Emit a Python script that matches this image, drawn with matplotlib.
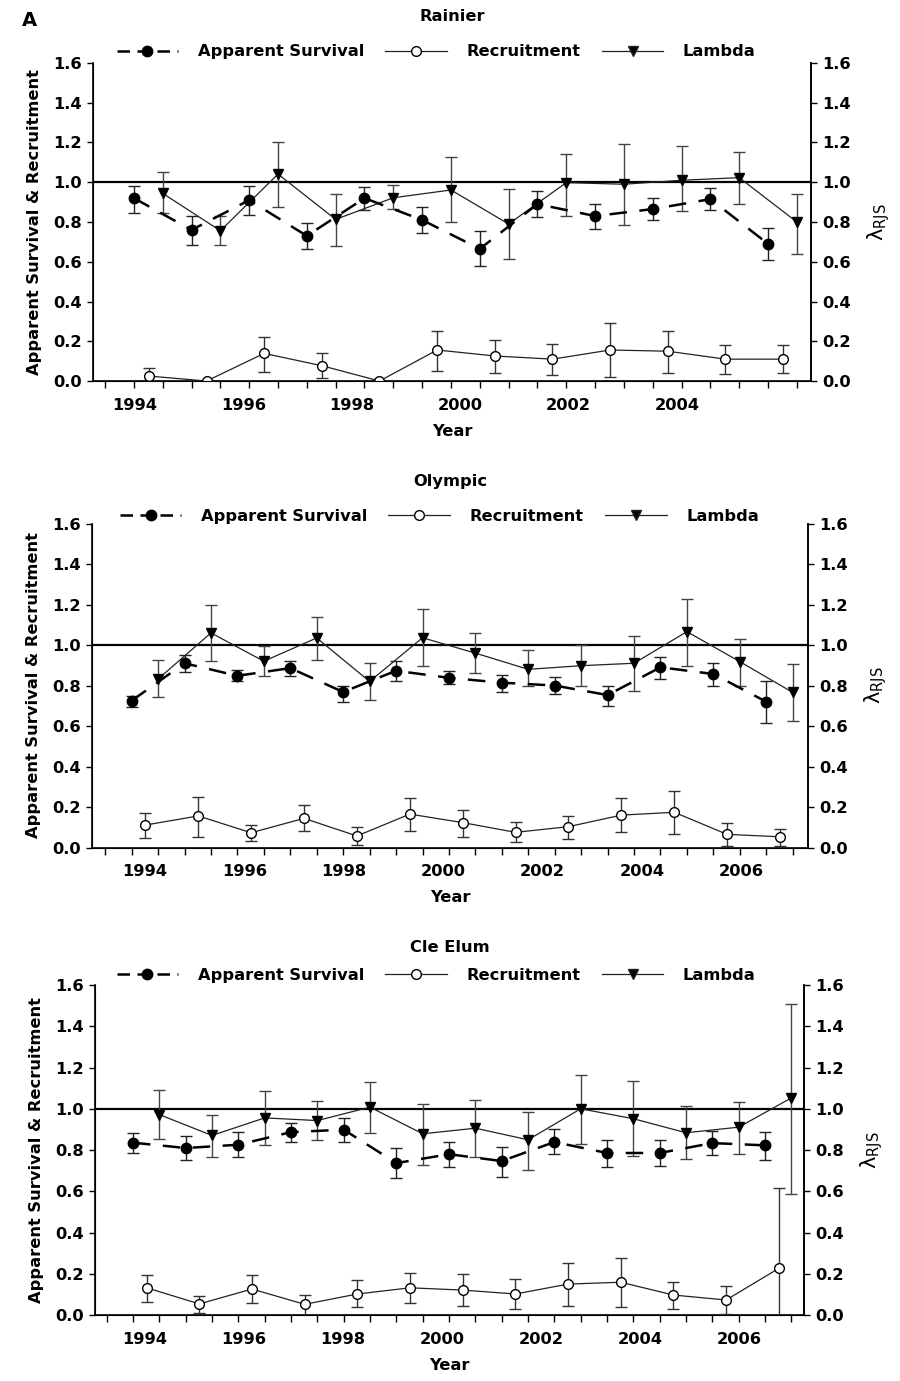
import matplotlib
matplotlib.use("Agg")
import matplotlib.pyplot as plt
from matplotlib.lines import Line2D
import numpy as np

plt.rcParams['font.family'] = ['DejaVu Sans']
plt.rcParams['font.weight'] = 'bold'
plt.rcParams['axes.labelweight'] = 'bold'

# ---- data ----
years_rainier = list(range(1994, 2006))
years_other = list(range(1994, 2007))

# Rainier
rai_surv = [0.92, 0.76, 0.91, 0.73, 0.92, 0.81, 0.665, 0.89, 0.83, 0.865, 0.915, 0.69]
rai_surv_lo = [0.847, 0.686, 0.835, 0.664, 0.86, 0.746, 0.58, 0.825, 0.765, 0.81, 0.86, 0.61]
rai_surv_hi = [0.983, 0.83, 0.983, 0.793, 0.978, 0.874, 0.755, 0.955, 0.89, 0.92, 0.97, 0.77]
rai_recr = [0.025, 0.0, 0.139, 0.077, 0.0, 0.156, 0.126, 0.11, 0.156, 0.15, 0.11, 0.11]
rai_recr_lo = [0.0, 0.0, 0.047, 0.013, 0.0, 0.05, 0.04, 0.03, 0.02, 0.04, 0.035, 0.04]
rai_recr_hi = [0.064, 0.0, 0.223, 0.139, 0.0, 0.25, 0.205, 0.185, 0.29, 0.25, 0.18, 0.18]
rai_lam = [0.944, 0.756, 1.041, 0.813, 0.922, 0.961, 0.79, 0.998, 0.99, 1.01, 1.023, 0.80]
rai_lam_lo = [0.847, 0.684, 0.877, 0.681, 0.864, 0.80, 0.613, 0.83, 0.785, 0.855, 0.89, 0.64]
rai_lam_hi = [1.05, 0.83, 1.204, 0.939, 0.986, 1.125, 0.966, 1.14, 1.19, 1.18, 1.15, 0.94]

# Olympic
oly_surv = [0.725, 0.91, 0.848, 0.886, 0.768, 0.873, 0.838, 0.814, 0.80, 0.753, 0.89, 0.857, 0.72]
oly_surv_lo = [0.695, 0.866, 0.82, 0.845, 0.72, 0.82, 0.807, 0.77, 0.76, 0.70, 0.83, 0.80, 0.616]
oly_surv_hi = [0.748, 0.95, 0.877, 0.92, 0.80, 0.92, 0.87, 0.852, 0.84, 0.80, 0.94, 0.91, 0.82]
oly_recr = [0.111, 0.156, 0.073, 0.144, 0.057, 0.165, 0.123, 0.075, 0.103, 0.16, 0.174, 0.065, 0.053]
oly_recr_lo = [0.047, 0.053, 0.03, 0.083, 0.012, 0.083, 0.053, 0.026, 0.042, 0.078, 0.067, 0.007, 0.007]
oly_recr_hi = [0.172, 0.25, 0.111, 0.21, 0.10, 0.246, 0.185, 0.124, 0.157, 0.246, 0.279, 0.119, 0.091]
oly_lam = [0.832, 1.06, 0.92, 1.035, 0.82, 1.036, 0.96, 0.88, 0.898, 0.91, 1.066, 0.918, 0.766]
oly_lam_lo = [0.745, 0.92, 0.845, 0.926, 0.728, 0.896, 0.86, 0.80, 0.80, 0.775, 0.896, 0.80, 0.626]
oly_lam_hi = [0.926, 1.20, 0.995, 1.14, 0.91, 1.18, 1.06, 0.975, 1.0, 1.045, 1.227, 1.03, 0.905]

# Cle Elum
cle_surv = [0.836, 0.81, 0.826, 0.887, 0.899, 0.737, 0.78, 0.747, 0.839, 0.786, 0.786, 0.834, 0.823]
cle_surv_lo = [0.786, 0.75, 0.765, 0.839, 0.839, 0.667, 0.718, 0.67, 0.78, 0.718, 0.721, 0.774, 0.75]
cle_surv_hi = [0.884, 0.866, 0.89, 0.932, 0.957, 0.81, 0.84, 0.815, 0.903, 0.85, 0.847, 0.892, 0.89]
cle_recr = [0.133, 0.055, 0.127, 0.053, 0.103, 0.133, 0.122, 0.103, 0.151, 0.16, 0.098, 0.074, 0.227]
cle_recr_lo = [0.066, 0.013, 0.058, 0.0, 0.039, 0.058, 0.046, 0.029, 0.046, 0.042, 0.029, 0.006, 0.0]
cle_recr_hi = [0.195, 0.095, 0.195, 0.098, 0.17, 0.206, 0.198, 0.174, 0.254, 0.278, 0.162, 0.142, 0.617]
cle_lam = [0.972, 0.871, 0.956, 0.943, 1.008, 0.879, 0.906, 0.85, 1.0, 0.952, 0.884, 0.911, 1.053]
cle_lam_lo = [0.855, 0.766, 0.823, 0.847, 0.882, 0.73, 0.766, 0.705, 0.831, 0.77, 0.755, 0.783, 0.589]
cle_lam_hi = [1.092, 0.971, 1.088, 1.04, 1.13, 1.024, 1.043, 0.983, 1.164, 1.133, 1.013, 1.032, 1.507]

rai_labels = [1994, 1996, 1998, 2000, 2002, 2004]
other_labels = [1994, 1996, 1998, 2000, 2002, 2004, 2006]

y_ticks = [0.0, 0.2, 0.4, 0.6, 0.8, 1.0, 1.2, 1.4, 1.6]

# series are offset inside each year group
OFF_RECR = 0.26
OFF_LAM = 0.5
FS = 11.7


def errs(v, lo, hi):
    v, lo, hi = np.array(v), np.array(lo), np.array(hi)
    return [v - lo, hi - v]


def draw_panel(ax, title, years, surv, surv_lo, surv_hi, recr, recr_lo, recr_hi,
               lam, lam_lo, lam_hi, label_years, xlim, label_start,
               title_y, legend_xy):
    yr = np.array(years, dtype=float)

    ax.axhline(1.0, color='black', lw=1.6, zorder=1)

    # lambda: thin solid line, down triangles
    ax.errorbar(yr + OFF_LAM, lam, yerr=errs(lam, lam_lo, lam_hi), color='#222222',
                lw=0.9, marker='v', ms=6.5, mfc='black', mec='black',
                ecolor='#444444', elinewidth=1.0, capsize=4, capthick=1.0, zorder=3)
    # apparent survival: dashed heavy line, filled circles
    ax.errorbar(yr, surv, yerr=errs(surv, surv_lo, surv_hi), color='black',
                lw=1.8, ls=(0, (7, 5)), marker='o', ms=7.5, mfc='black', mec='black',
                ecolor='#222222', elinewidth=1.0, capsize=4, capthick=1.0, zorder=4)
    # recruitment: thin solid line, open circles
    ax.errorbar(yr + OFF_RECR, recr, yerr=errs(recr, recr_lo, recr_hi), color='#222222',
                lw=0.9, marker='o', ms=7, mfc='white', mec='black', mew=1.0,
                ecolor='#333333', elinewidth=1.0, capsize=4, capthick=1.0, zorder=4)

    ax.set_xlim(xlim)
    ax.set_ylim(0, 1.6)
    ax.set_yticks(y_ticks)
    ax.set_yticklabels(['%.1f' % t for t in y_ticks])
    ax.tick_params(axis='y', direction='out', length=4, width=1, pad=4, labelsize=FS)

    # minor ticks every half year, labels spread slightly tighter than the data
    ax.set_xticks(np.arange(1993.5, xlim[1], 0.5), minor=True)
    ax.set_xticks([label_start + (y - 1994) * 0.94 for y in label_years])
    ax.set_xticklabels([str(y) for y in label_years])
    ax.tick_params(axis='x', which='major', length=0, pad=12, labelsize=FS)
    ax.tick_params(axis='x', which='minor', direction='out', length=5, width=1)
    ax.set_xlabel('Year', fontsize=FS, labelpad=8)
    ax.set_ylabel('Apparent Survival & Recruitment', fontsize=FS, labelpad=8)

    ax.spines['top'].set_visible(False)
    for s in ['left', 'right', 'bottom']:
        ax.spines[s].set_linewidth(1.2)

    ax2 = ax.twinx()
    ax2.set_ylim(0, 1.6)
    ax2.set_yticks(y_ticks)
    ax2.set_yticklabels(['%.1f' % t for t in y_ticks])
    ax2.tick_params(axis='y', direction='out', length=4, width=1, pad=4, labelsize=FS)
    ax2.spines['top'].set_visible(False)
    ax2.spines['right'].set_linewidth(1.2)
    ax2.set_ylabel(r'λ$_{\mathregular{RJS}}$', fontsize=15, fontweight='normal', labelpad=10)

    ax.text(0.5, title_y, title, transform=ax.transAxes, ha='center', va='center',
            fontsize=FS)

    handles = [
        Line2D([], [], color='black', lw=1.8, ls=(0, (5, 3)), marker='o', ms=7.5),
        Line2D([], [], color='#222222', lw=0.9, marker='o', ms=7, mfc='white', mec='black'),
        Line2D([], [], color='#222222', lw=0.9, marker='v', ms=6.5, mfc='black'),
    ]
    ax.legend(handles, ['Apparent Survival', 'Recruitment', 'Lambda'], loc='center',
              bbox_to_anchor=legend_xy, ncol=3, frameon=False, fontsize=FS,
              handlelength=3.8, handletextpad=1.2, columnspacing=1.3)


fig = plt.figure(figsize=(9, 13.81), dpi=100)

ax1 = fig.add_axes([0.1033, 0.7241, 0.7978, 0.2303])
ax2 = fig.add_axes([0.1022, 0.3863, 0.7956, 0.2346])
ax3 = fig.add_axes([0.1056, 0.0476, 0.7878, 0.2392])

draw_panel(ax1, 'Rainier', years_rainier, rai_surv, rai_surv_lo, rai_surv_hi,
           rai_recr, rai_recr_lo, rai_recr_hi, rai_lam, rai_lam_lo, rai_lam_hi,
           rai_labels, (1993.29, 2005.745), 1994.02, 1.145, (0.478, 1.035))
draw_panel(ax2, 'Olympic', years_other, oly_surv, oly_surv_lo, oly_surv_hi,
           oly_recr, oly_recr_lo, oly_recr_hi, oly_lam, oly_lam_lo, oly_lam_hi,
           other_labels, (1993.25, 2006.79), 1994.25, 1.131, (0.485, 1.023))
draw_panel(ax3, 'Cle Elum', years_other, cle_surv, cle_surv_lo, cle_surv_hi,
           cle_recr, cle_recr_lo, cle_recr_hi, cle_lam, cle_lam_lo, cle_lam_hi,
           other_labels, (1993.28, 2006.74), 1994.23, 1.112, (0.481, 1.03))

fig.text(0.033, 0.985, 'A', fontsize=14, ha='center', va='center')

fig.savefig('out.png', dpi=100)
